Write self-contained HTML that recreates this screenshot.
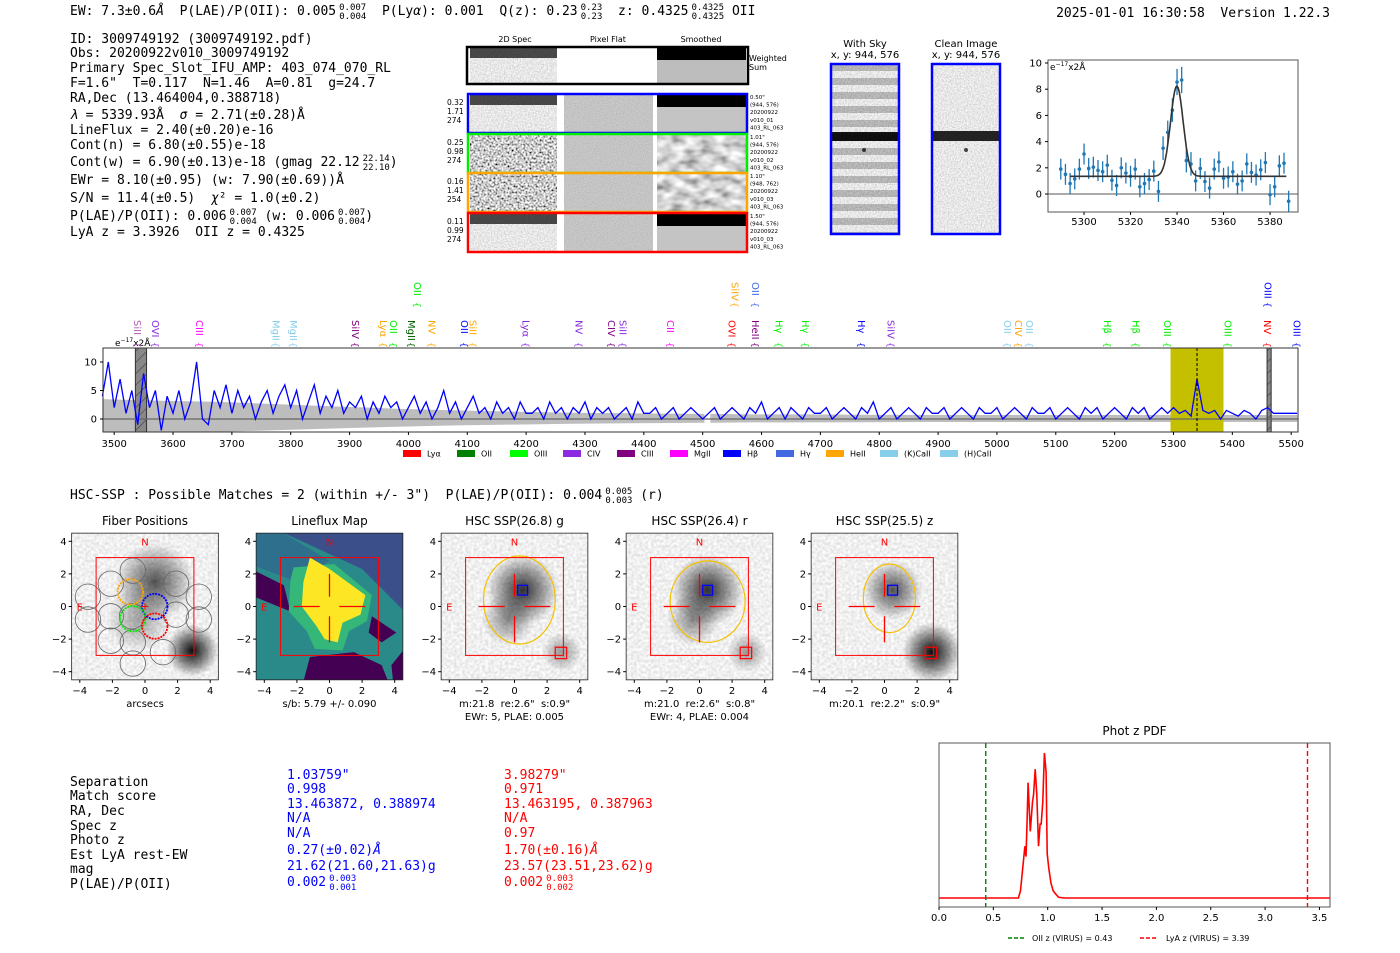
<!DOCTYPE html>
<html><head><meta charset="utf-8"><style>
html,body{margin:0;padding:0;background:#fff;}
svg{display:block;}
text{white-space:pre;}
.m{font-family:"DejaVu Sans Mono","Liberation Mono",monospace;font-size:13px;fill:#000;}
.s{font-family:"DejaVu Sans","Liberation Sans",sans-serif;}
</style></head><body>
<svg id="root" width="1400" height="953" viewBox="0 0 1400 953" xmlns="http://www.w3.org/2000/svg">
<defs>
<filter id="nzLight" x="0" y="0" width="100%" height="100%"><feTurbulence type="fractalNoise" baseFrequency="0.7" numOctaves="1" seed="3"/><feColorMatrix type="matrix" values="0.7 0 0 0 0.45 0.7 0 0 0 0.45 0.7 0 0 0 0.45 0 0 0 0 1"/></filter>
<filter id="nzHard" x="0" y="0" width="100%" height="100%"><feTurbulence type="fractalNoise" baseFrequency="0.5" numOctaves="1" seed="7"/><feColorMatrix type="matrix" values="2.2 0 0 0 -0.5 2.2 0 0 0 -0.5 2.2 0 0 0 -0.5 0 0 0 0 1"/></filter>
<filter id="nzFlat" x="0" y="0" width="100%" height="100%"><feTurbulence type="fractalNoise" baseFrequency="0.9" numOctaves="1" seed="5"/><feColorMatrix type="matrix" values="0.3 0 0 0 0.4 0.3 0 0 0 0.4 0.3 0 0 0 0.4 0 0 0 0 1"/></filter>
<filter id="nzSmooth" x="0" y="0" width="100%" height="100%"><feTurbulence type="fractalNoise" baseFrequency="0.07 0.12" numOctaves="2" seed="9"/><feColorMatrix type="matrix" values="1.3 0 0 0 0.0 1.3 0 0 0 0.0 1.3 0 0 0 0.0 0 0 0 0 1"/></filter>
<filter id="nzImg" x="0" y="0" width="100%" height="100%"><feTurbulence type="fractalNoise" baseFrequency="0.35" numOctaves="1" seed="11"/><feColorMatrix type="matrix" values="0.5 0 0 0 0.62 0.5 0 0 0 0.62 0.5 0 0 0 0.62 0 0 0 0 1"/></filter>
<radialGradient id="blob"><stop offset="0" stop-color="#000" stop-opacity="0.95"/><stop offset="0.5" stop-color="#000" stop-opacity="0.5"/><stop offset="1" stop-color="#000" stop-opacity="0"/></radialGradient>
<pattern id="hatch" width="8" height="8" patternUnits="userSpaceOnUse" patternTransform="rotate(45)"><rect width="8" height="8" fill="#888"/><line x1="0" y1="0" x2="0" y2="8" stroke="#333" stroke-width="1"/></pattern>
<pattern id="skyStripes" width="68" height="14" patternUnits="userSpaceOnUse" y="64"><rect width="68" height="7" fill="#000" opacity="0.22"/></pattern>
</defs>

<text class="m" x="70" y="15">EW: 7.3±0.6<tspan font-style="italic">Å</tspan>  P(LAE)/P(OII): 0.005<tspan font-size="9" dx="3" dy="-5">0.007</tspan><tspan font-size="9" dx="-27" dy="9">0.004</tspan><tspan dy="-4">  P(Ly</tspan><tspan font-style="italic">α</tspan>): 0.001  Q(z): 0.23<tspan font-size="9" dx="3" dy="-5">0.23</tspan><tspan font-size="9" dx="-21.6" dy="9">0.23</tspan><tspan dy="-4">  z: 0.4325</tspan><tspan font-size="9" dx="3" dy="-5">0.4325</tspan><tspan font-size="9" dx="-32.4" dy="9">0.4325</tspan><tspan dy="-4"> OII</tspan></text>
<text class="m" x="1330" y="17" text-anchor="end">2025-01-01 16:30:58  Version 1.22.3</text>

<g>
<text class="m" x="70" y="43">ID: 3009749192 (3009749192.pdf)</text>
<text class="m" x="70" y="57">Obs: 20200922v010_3009749192</text>
<text class="m" x="70" y="72">Primary Spec_Slot_IFU_AMP: 403_074_070_RL</text>
<text class="m" x="70" y="87">F=1.6"  T=0.117  N=1.46  A=0.81  g=24.7</text>
<text class="m" x="70" y="102">RA,Dec (13.464004,0.388718)</text>
<text class="m" x="70" y="119"><tspan font-style="italic">λ</tspan> = 5339.93Å  <tspan font-style="italic">σ</tspan> = 2.71(±0.28)Å</text>
<text class="m" x="70" y="134">LineFlux = 2.40(±0.20)e-16</text>
<text class="m" x="70" y="149">Cont(n) = 6.80(±0.55)e-18</text>
<text class="m" x="70" y="166">Cont(w) = 6.90(±0.13)e-18 (gmag 22.12<tspan font-size="9" dx="3" dy="-5">22.14</tspan><tspan font-size="9" dx="-27" dy="9">22.10</tspan><tspan dy="-4">)</tspan></text>
<text class="m" x="70" y="184">EWr = 8.10(±0.95) (w: 7.90(±0.69))Å</text>
<text class="m" x="70" y="202">S/N = 11.4(±0.5)  <tspan font-style="italic">χ</tspan>² = 1.0(±0.2)</text>
<text class="m" x="70" y="220">P(LAE)/P(OII): 0.006<tspan font-size="9" dx="3" dy="-5">0.007</tspan><tspan font-size="9" dx="-27" dy="9">0.004</tspan><tspan dy="-4"> (w: 0.006</tspan><tspan font-size="9" dx="3" dy="-5">0.007</tspan><tspan font-size="9" dx="-27" dy="9">0.004</tspan><tspan dy="-4">)</tspan></text>
<text class="m" x="70" y="236">LyA z = 3.3926  OII z = 0.4325</text>
</g>

<g id="spec2d" class="s">
<text x="515" y="42" font-size="8" text-anchor="middle">2D Spec</text>
<text x="608" y="42" font-size="8" text-anchor="middle">Pixel Flat</text>
<text x="701" y="42" font-size="8" text-anchor="middle">Smoothed</text>
<text x="749" y="61" font-size="8">Weighted</text>
<text x="749" y="70" font-size="8">Sum</text>
</g>

<g class="s">
<text x="865" y="47" font-size="10" text-anchor="middle">With Sky</text>
<text x="865" y="58" font-size="10" text-anchor="middle">x, y: 944, 576</text>
<rect x="831" y="64" width="68" height="170" filter="url(#nzLight)"/>
<rect x="831" y="64" width="68" height="170" fill="url(#skyStripes)"/>
<rect x="831" y="132" width="68" height="9" fill="#000" opacity="0.92"/>
<circle cx="864" cy="150" r="2" fill="#333"/>
<rect x="831" y="64" width="68" height="170" fill="none" stroke="#0000ff" stroke-width="2.5"/>
</g>
<g class="s">
<text x="966" y="47" font-size="10" text-anchor="middle">Clean Image</text>
<text x="966" y="58" font-size="10" text-anchor="middle">x, y: 944, 576</text>
<rect x="932" y="64" width="68" height="170" filter="url(#nzLight)"/>
<rect x="932" y="131" width="68" height="10" fill="#000" opacity="0.85"/>
<circle cx="966" cy="150" r="2" fill="#444"/>
<rect x="932" y="64" width="68" height="170" fill="none" stroke="#0000ff" stroke-width="2.5"/>
</g>

<g id="zoomplot" class="s"></g>
<g id="mainspec" class="s"></g>

<text class="m" x="70" y="499">HSC-SSP : Possible Matches = 2 (within +/- 3")  P(LAE)/P(OII): 0.004<tspan font-size="9" dx="3" dy="-5">0.005</tspan><tspan font-size="9" dx="-27" dy="9">0.003</tspan><tspan dy="-4"> (r)</tspan></text>

<g id="panels" class="s"></g>

<g>
<text class="m" x="70" y="786">Separation</text>
<text class="m" x="70" y="800">Match score</text>
<text class="m" x="70" y="815">RA, Dec</text>
<text class="m" x="70" y="830">Spec z</text>
<text class="m" x="70" y="844">Photo z</text>
<text class="m" x="70" y="859">Est LyA rest-EW</text>
<text class="m" x="70" y="873">mag</text>
<text class="m" x="70" y="888">P(LAE)/P(OII)</text>
</g>
<g>
<text class="m" style="fill:#0000ff" x="287" y="779">1.03759"</text>
<text class="m" style="fill:#0000ff" x="287" y="793">0.998</text>
<text class="m" style="fill:#0000ff" x="287" y="808">13.463872, 0.388974</text>
<text class="m" style="fill:#0000ff" x="287" y="822">N/A</text>
<text class="m" style="fill:#0000ff" x="287" y="837">N/A</text>
<text class="m" style="fill:#0000ff" x="287" y="854">0.27(±0.02)<tspan font-style="italic">Å</tspan></text>
<text class="m" style="fill:#0000ff" x="287" y="870">21.62(21.60,21.63)g</text>
<text class="m" style="fill:#0000ff" x="287" y="886">0.002<tspan font-size="9" dx="3" dy="-5">0.003</tspan><tspan font-size="9" dx="-27" dy="9">0.001</tspan></text>
</g>
<g>
<text class="m" style="fill:#ff0000" x="504" y="779">3.98279"</text>
<text class="m" style="fill:#ff0000" x="504" y="793">0.971</text>
<text class="m" style="fill:#ff0000" x="504" y="808">13.463195, 0.387963</text>
<text class="m" style="fill:#ff0000" x="504" y="822">N/A</text>
<text class="m" style="fill:#ff0000" x="504" y="837">0.97</text>
<text class="m" style="fill:#ff0000" x="504" y="854">1.70(±0.16)<tspan font-style="italic">Å</tspan></text>
<text class="m" style="fill:#ff0000" x="504" y="870">23.57(23.51,23.62)g</text>
<text class="m" style="fill:#ff0000" x="504" y="886">0.002<tspan font-size="9" dx="3" dy="-5">0.003</tspan><tspan font-size="9" dx="-27" dy="9">0.002</tspan></text>
</g>

<g id="pdfplot" class="s"></g>
</svg>

<script>
const fitWaves = [5290,5292,5294,5296,5298,5300,5302,5304,5306,5308,5310,5312,5314,5316,5318,5320,5322,5324,5326,5328,5330,5332,5334,5336,5338,5340,5342,5344,5346,5348,5350,5352,5354,5356,5358,5360,5362,5364,5366,5368,5370,5372,5374,5376,5378,5380,5382,5384,5386,5388];
const fitFlux = [1.9,1.5,0.8,1.15,1.9,3.05,1.95,2.05,1.8,1.7,2.2,1.05,0.65,2.0,1.6,1.35,1.9,0.55,0.8,1.1,1.75,0.2,3.5,4.7,6.4,8.55,8.7,2.55,2.3,1.0,1.95,0.95,0.45,1.9,2.45,1.2,1.3,1.7,0.75,1.0,2.3,1.65,1.45,1.85,2.4,-0.05,0.55,2.15,2.35,-0.55];
const fitErr = [0.8,0.8,0.8,0.8,0.8,0.8,0.8,0.8,0.8,0.8,0.8,0.8,0.8,0.8,0.8,0.8,0.8,0.8,0.8,0.8,0.8,0.8,0.9,0.9,0.9,1.0,1.0,0.9,0.9,0.8,0.8,0.8,0.8,0.8,0.8,0.8,0.8,0.8,0.8,0.8,0.8,0.8,0.8,0.8,0.8,0.8,0.8,0.8,0.8,0.8];
const fitParams = [5339.93, 2.71, 6.9, 1.35];
const fitTicksX = [5300,5320,5340,5360,5380];
const fitTicksY = [0,2,4,6,8,10];

const specStart = 3480, specStep = 10;
const specFlux = [4,10,2,7,1,5,-1,8,2,5,-2,4,1,5,0,3,10,0,-1,5,2,6,1,
 5,2,4,0,3,5,1,4,6,2,5,0,3,6,1,4,2,5,1,3,
 2,4,0,3,1,4,2,3,0,2,4,1,3,0,2,5,1,3,0,2,4,1,2,0,3,1,2,0,3,1,
 1,2,0,3,1,2,0,2,1,3,0,2,1,2,0,1,2,0,3,1,1,2,0,1,2,0,1,2,1,0,
 1,2,0,1,2,1,0,2,1,3,0,1,2,0,2,1,0,2,1,1,2,0,1,2,1,0,2,1,3,0,1,2,0,1,2,1,0,2,1,1,2,0,1,2,1,0,2,1,1,2,0,1,2,1,0,2,1,1,2,0,1,2,1,0,2,1,2,0,1,2,1,0,2,1,2,0,1,2,1,
 2,1,1.5,0.5,7,1.5,1,1.5,0,1.5,1,0.5,1.5,1,0,1.5,2,1,1,1,1,1];
const errWaves = [3480,3580,3680,3780,3880,3980,4080,4180,4280,4380,4500,4515,4580,4680,4780,4880,4980,5080,5180,5280,5380,5480,5510];
const errVals = [3.5,3.2,3.0,2.6,2.2,1.8,1.5,1.3,1.1,1.0,0.9,0.9,0.8,0.8,0.75,0.7,0.7,0.7,0.7,0.7,0.7,0.7,0.7];
const specTicksX = [3500,3600,3700,3800,3900,4000,4100,4200,4300,4400,4500,4600,4700,4800,4900,5000,5100,5200,5300,5400,5500];
const specTicksY = [0,5,10];
const lineWaves = [4015,4555,4590,5461, 3540,3570,3645,3775,3805,3910,3958,3975,4005,4040,4095,4110,4200,4290,4345,4365,4445,4550,4590,4630,4675,4770,4820,5018,5037,5055,5188,5236,5290,5393,5460,5510];
const lineNames = ["OII","SiIV","OII","OIII", "SiII","OVI","CIII","MgII","MgII","SiIV","Lyα","OII","MgII","NV","OII","SiII","Lyα","NV","CIV","SiII","CII","OVI","HeII","Hγ","Hγ","Hγ","SiIV","OII","CIV","OII","Hβ","Hβ","OIII","OIII","NV","OIII"];
const lineColors = ["#00ee00","#ffa500","#4169e1","#0000ff", "#b05cb0","#8a2be2","#ff00ff","#87ceeb","#87ceeb","#800080","#ffa500","#00ee00","#006400","#ffa500","#0000ff","#ffa500","#8a2be2","#8a2be2","#800080","#8a2be2","#ff00ff","#ff0000","#800080","#00ee00","#00ee00","#0000ff","#8a2be2","#87ceeb","#ffa500","#87ceeb","#00ee00","#00ee00","#00ee00","#00ee00","#ff0000","#0000ff"];
const lineRows = [0,0,0,0, 1,1,1,1,1,1,1,1,1,1,1,1,1,1,1,1,1,1,1,1,1,1,1,1,1,1,1,1,1,1,1,1];
const legendNames = ["Lyα","OII","OIII","CIV","CIII","MgII","Hβ","Hγ","HeII","(K)CaII","(H)CaII"];
const legendColors = ["#ff0000","#008000","#00ff00","#8a2be2","#800080","#ff00ff","#0000ff","#4169e1","#ffa500","#87ceeb","#87ceeb"];
const fitWindow = [5295, 5385];
const maskedWindows = [[3536,3555],[5459,5466]];

const pdfZ = [0,0.73,0.75,0.77,0.79,0.80,0.81,0.82,0.84,0.86,0.87,0.885,0.90,0.915,0.93,0.94,0.955,0.97,0.985,0.995,1.01,1.03,1.05,1.07,1.10,1.15,3.6];
const pdfP = [0,0,0.05,0.2,0.35,0.28,0.5,0.78,0.45,0.65,0.7,0.87,0.7,0.35,0.5,0.5,0.65,0.98,0.85,0.3,0.2,0.1,0.05,0.03,0.005,0,0];
const pdfTicks = [0.0,0.5,1.0,1.5,2.0,2.5,3.0,3.5];
const pdfMarkers = [0.43, 3.39];

const NS = "http://www.w3.org/2000/svg";
function mk(parent, tag, attrs, text){
  const e = document.createElementNS(NS, tag);
  for (const k in attrs) e.setAttribute(k, attrs[k]);
  if (text !== undefined) e.textContent = text;
  parent.appendChild(e); return e;
}

(function(){
  const g = document.getElementById('spec2d');
  let r;
  r = mk(g,'rect',{x:470,y:48,width:87,height:35,filter:'url(#nzLight)'});
  
  
  mk(g,'rect',{x:470,y:48,width:87,height:10,fill:'#111',opacity:0.75});
  mk(g,'rect',{x:657,y:48,width:89,height:35,fill:'#bdbdbd'});
  mk(g,'rect',{x:657,y:48,width:89,height:12,fill:'#000'});
  mk(g,'rect',{x:467,y:47,width:281,height:37,fill:'none',stroke:'#000','stroke-width':2.5});
  const rows = [[94,'#0000ff','light',["0.32","1.71","274"],["0.50\"","(944, 576)","20200922","v010_01","403_RL_063"]],
                [134,'#00ee00','hard',["0.25","0.98","274"],["1.01\"","(944, 576)","20200922","v010_02","403_RL_063"]],
                [173,'#ffa500','hard',["0.16","1.41","254"],["1.10\"","(948, 762)","20200922","v010_03","403_RL_063"]],
                [213,'#ff0000','light',["0.11","0.99","274"],["1.50\"","(944, 576)","20200922","v010_03","403_RL_063"]]];
  rows.forEach((rw,i)=>{
    const y=rw[0], h=38;
    const c1 = mk(g,'rect',{x:470,y:y+1,width:87,height:h,filter: rw[2]==='light'?'url(#nzLight)':'url(#nzHard)'});
    
    
    if (rw[2]==='light') mk(g,'rect',{x:470,y:y+1,width:87,height:10,fill:'#111',opacity:0.75});
    mk(g,'rect',{x:564,y:y+1,width:89,height:h,filter:'url(#nzFlat)'});
    if (rw[2]==='light'){ mk(g,'rect',{x:657,y:y+1,width:89,height:h,fill:'#c4c4c4'}); mk(g,'rect',{x:657,y:y+1,width:89,height:12,fill:'#000'}); }
    else mk(g,'rect',{x:657,y:y+1,width:89,height:h,filter:'url(#nzSmooth)'});
    const b = mk(g,'rect',{x:468,y:y,width:279,height:h+1,fill:'none',stroke:rw[1],'stroke-width':2.5});
    
    
    rw[3].forEach((t,k)=>mk(g,'text',{x:447,y:y+11+k*9,'font-size':7.5},t));
    rw[4].forEach((t,k)=>mk(g,'text',{x:750,y:y+5+k*7.6,'font-size':5.5},t));
  });
})();

(function(){
  const g = document.getElementById('zoomplot');
  const L=1048,R=1298,T=60,B=212;
  const xz = w => L + (w-5284.5)*2.325;
  const yz = v => 194 - v*13.1;
  mk(g,'line',{x1:L,x2:R,y1:yz(0),y2:yz(0),stroke:'#555','stroke-width':1});
  fitWaves.forEach((w,i)=>{
    const x=xz(w);
    const eb = mk(g,'line',{x1:x,x2:x,y1:yz(fitFlux[i]-fitErr[i]),y2:yz(fitFlux[i]+fitErr[i]),stroke:'#1f77b4','stroke-width':1.3});
    
    
    const p = mk(g,'circle',{cx:x,cy:yz(fitFlux[i]),r:1.8,fill:'#1f77b4'});
    
    
  });
  let d='';
  for (let w=5294; w<=5387; w+=0.5){
    const v = fitParams[3] + fitParams[2]*Math.exp(-0.5*Math.pow((w-fitParams[0])/fitParams[1],2));
    d += (d?'L':'M') + xz(w).toFixed(1)+','+yz(v).toFixed(1);
  }
  const fl = mk(g,'path',{d:d,fill:'none',stroke:'#333','stroke-width':1.6});
  
  
  mk(g,'rect',{x:L,y:T,width:R-L,height:B-T,fill:'none',stroke:'#555','stroke-width':1});
  fitTicksX.forEach(t=>{ mk(g,'line',{x1:xz(t),x2:xz(t),y1:B,y2:B+3,stroke:'#000'}); mk(g,'text',{x:xz(t),y:B+13,'font-size':10,'text-anchor':'middle'},t); });
  fitTicksY.forEach(t=>{ mk(g,'line',{x1:L-3,x2:L,y1:yz(t),y2:yz(t),stroke:'#000'}); mk(g,'text',{x:L-6,y:yz(t)+3.5,'font-size':10,'text-anchor':'end'},t); });
  const u = mk(g,'text',{x:L+2,y:T+10,'font-size':9},'e');
  mk(u,'tspan',{'font-size':6,dy:-4},'−17');
  mk(u,'tspan',{dy:4},'x2Å');
})();

(function(){
  const g = document.getElementById('mainspec');
  const L=103,R=1298,T=348,B=432;
  const xm = w => L + (w-3481)*0.5885;
  const ym = v => Math.max(T, Math.min(B, 419 - v*5.7));
  let up='', dn='';
  errWaves.forEach((w,i)=>{ up += (up?'L':'M')+xm(w).toFixed(1)+','+ym(errVals[i]).toFixed(1); });
  for (let i=errWaves.length-1;i>=0;i--) dn += 'L'+xm(errWaves[i]).toFixed(1)+','+ym(-errVals[i]*0.75).toFixed(1);
  const band = mk(g,'path',{d:up+dn+'Z',fill:'#bdbdbd'});
  
  
  mk(g,'rect',{x:xm(4503),y:T,width:xm(4513)-xm(4503),height:B-T,fill:'#fff'});
  const fw = mk(g,'rect',{x:xm(fitWindow[0]),y:T,width:xm(fitWindow[1])-xm(fitWindow[0]),height:B-T,fill:'#c4c000'});
  
  
  maskedWindows.forEach(m=>{
    const mw = mk(g,'rect',{x:xm(m[0]),y:T,width:xm(m[1])-xm(m[0]),height:B-T,fill:'url(#hatch)',stroke:'#333'});
    
    
  });
  mk(g,'line',{x1:L,x2:R,y1:ym(0),y2:ym(0),stroke:'#666','stroke-width':1.2});
  let d='';
  specFlux.forEach((v,i)=>{ const w=specStart+i*specStep; d += (d?'L':'M')+xm(w).toFixed(1)+','+ym(v).toFixed(1); });
  const sl = mk(g,'path',{d:d,fill:'none',stroke:'#0000ff','stroke-width':1.3});
  
  
  mk(g,'line',{x1:xm(5340),x2:xm(5340),y1:T,y2:B,stroke:'#000','stroke-dasharray':'3,2','stroke-width':1});
  mk(g,'rect',{x:L,y:T,width:R-L,height:B-T,fill:'none',stroke:'#333','stroke-width':1});
  specTicksX.forEach(t=>{ mk(g,'line',{x1:xm(t),x2:xm(t),y1:B,y2:B+3,stroke:'#000'}); mk(g,'text',{x:xm(t),y:B+15,'font-size':10,'text-anchor':'middle'},t); });
  specTicksY.forEach(t=>{ mk(g,'line',{x1:L-3,x2:L,y1:ym(t),y2:ym(t),stroke:'#000'}); mk(g,'text',{x:L-6,y:ym(t)+3.5,'font-size':10,'text-anchor':'end'},t); });
  const u = mk(g,'text',{x:115,y:346,'font-size':9},'e');
  mk(u,'tspan',{'font-size':6,dy:-4},'−17');
  mk(u,'tspan',{dy:4},'x2Å');
  lineWaves.forEach((w,i)=>{
    const x = xm(w), yTop = lineRows[i]===0 ? 282 : 320;
    const t = mk(g,'text',{x:0,y:0,'font-size':10,fill:lineColors[i],transform:`translate(${x-3.5},${yTop}) rotate(90)`},lineNames[i]);
    
    
    mk(g,'text',{x:0,y:0,'font-size':9,fill:lineColors[i],transform:`translate(${x-3.5},${yTop+(lineRows[i]===0?20:22)}) rotate(90)`},'{');
  });
  const lx=[403,457,510,563,617,670,723,776,826,880,940];
  legendNames.forEach((n,i)=>{
    const r = mk(g,'rect',{x:lx[i],y:450,width:18,height:7,fill:legendColors[i]});
    
    
    const t = mk(g,'text',{x:lx[i]+24,y:456.5,'font-size':8},n);
    
    
  });
})();

(function(){
  const g = document.getElementById('panels');
  const centers=[145,329.5,514.5,699.5,884.5], cy=606.5, s=16.3;
  const titles=["Fiber Positions","Lineflux Map","HSC SSP(26.8) g","HSC SSP(26.4) r","HSC SSP(25.5) z"];
  const sub1=["arcsecs","s/b: 5.79 +/- 0.090","m:21.8  re:2.6\"  s:0.9\"","m:21.0  re:2.6\"  s:0.8\"","m:20.1  re:2.2\"  s:0.9\""];
  const sub2=["","","EWr: 5, PLAE: 0.005","EWr: 4, PLAE: 0.004",""];
  const ticks=[-4,-2,0,2,4];
  const ell=[null,null,[0.3,0.4,2.2,2.7],[0.5,0.3,2.3,2.5],[0.3,0.5,1.6,2.1]];
  centers.forEach((cx,i)=>{
    const X = v => cx + v*s, Y = v => cy - v*s;
    const L=X(-4.5), T=Y(4.5), W=9*s;
    const pg = mk(g,'g',{});
    
    
    const cpth = mk(pg,'clipPath',{id:'clp'+i});
    mk(cpth,'rect',{x:L,y:T,width:W,height:W});
    const ig = mk(pg,'g',{'clip-path':`url(#clp${i})`});
    if (i===1){
      mk(ig,'rect',{x:L,y:T,width:W,height:W,fill:'#2a8a8a'});
      const poly=(pts,fill)=>mk(ig,'polygon',{points:pts.map(p=>X(p[0])+','+Y(p[1])).join(' '),fill:fill});
      poly([[-3,4.6],[4.6,4.6],[4.6,-0.3],[2,2.3]],'#3b4f8a');
      poly([[-4.6,4.6],[-3,4.6],[0,2.8],[-2,1.5],[-4.6,2.5]],'#2f6f8e');
      poly([[-4.6,2.2],[-2.8,1.3],[-2.4,-0.3],[-4.6,0.6]],'#440154');
      poly([[-1.2,-3.1],[1.5,-2.8],[3.2,-3.6],[3.6,-4.6],[-1.6,-4.6]],'#440154');
      poly([[2.6,-0.6],[4.1,-1.6],[3.2,-2.2],[2.4,-1.6]],'#440154');
      poly([[4.6,-2.6],[4.6,-4.6],[3.9,-4.6],[3.8,-3.6]],'#440154');
      poly([[-2.2,2.4],[0.3,2.6],[2.6,0.7],[2.3,-0.9],[1.2,-1.5],[0.8,-2.7],[-0.9,-2.6],[-1.4,-1.5],[-2.5,-0.3],[-2.4,1.6]],'#35b779');
      poly([[-1.2,3.0],[0,2.3],[2.2,0.7],[1.9,-0.5],[0.8,-1.0],[0.5,-2.2],[-0.3,-2.0],[-0.8,-1.2],[-1.7,0],[-1.6,1.5]],'#fde725');
    } else {
      mk(ig,'rect',{x:L,y:T,width:W,height:W,filter:'url(#nzImg)'});
      const blobs = i===0 ? [[0.6,1.5,2.4,0.7],[-0.4,-0.8,2.0,0.35],[2.9,-2.7,1.6,1]] :
                    i===4 ? [[0.5,1.0,1.8,0.7],[2.9,-2.8,1.8,1]] :
                            [[0.5,1.0,2.2,0.85],[-0.4,-0.8,1.6,0.45],[2.9,-2.8,1.2,0.4]];
      blobs.forEach(b=>mk(ig,'circle',{cx:X(b[0]),cy:Y(b[1]),r:b[2]*s,fill:'url(#blob)',opacity:b[3]}));
    }
    mk(pg,'rect',{x:L,y:T,width:W,height:W,fill:'none',stroke:'#222','stroke-width':0.8});
    if (i===0){
      const gray=[[-0.75,2.2],[-2.1,1.4],[-3.5,0.6],[-3.5,-0.8],[-2.1,-0.6],[-2.1,-2.1],[-0.75,-2.2],[-0.75,-3.5],[1.1,-2.8],[1.9,-0.5],[3.3,0.6],[3.3,-0.8],[1.9,1.4],[-0.8,-0.6]];
      gray.forEach(p=>mk(pg,'circle',{cx:X(p[0]),cy:Y(p[1]),r:0.78*s,fill:'none',stroke:'#666','stroke-width':0.8}));
      [[-0.9,0.9,'#ffa500'],[0.6,0,'#0000ff'],[-0.75,-0.75,'#00ee00'],[0.6,-1.2,'#ff0000']].forEach(p=>{
        const c = mk(pg,'circle',{cx:X(p[0]),cy:Y(p[1]),r:0.78*s,fill:'none',stroke:p[2],'stroke-width':1.8,'stroke-dasharray':'2,1'});
        
        
      });
      mk(pg,'line',{x1:X(-0.2),x2:X(0.2),y1:Y(0),y2:Y(0),stroke:'#f00'});
      mk(pg,'line',{x1:X(0),x2:X(0),y1:Y(0.2),y2:Y(-0.2),stroke:'#f00'});
    }
    if (ell[i]){
      const e=ell[i];
      mk(pg,'ellipse',{cx:X(e[0]),cy:Y(e[1]),rx:e[2]*s,ry:e[3]*s,fill:'none',stroke:'#f5c000','stroke-width':1.2});
      mk(pg,'rect',{x:X(0.2),y:Y(1.3),width:0.6*s,height:0.6*s,fill:'none',stroke:'#0000ff','stroke-width':1.3});
      mk(pg,'rect',{x:X(2.5),y:Y(-2.5),width:0.7*s,height:0.7*s,fill:'none',stroke:'#ff0000','stroke-width':1.2});
    }
    if (i>=1){
      [[-2.2,0,-0.6,0],[0.6,0,2.2,0],[0,2.0,0,0.6],[0,-0.6,0,-2.2]].forEach(l=>mk(pg,'line',{x1:X(l[0]),y1:Y(l[1]),x2:X(l[2]),y2:Y(l[3]),stroke:'#f00','stroke-width':1.3}));
    }
    mk(pg,'rect',{x:X(-3),y:Y(3),width:6*s,height:6*s,fill:'none',stroke:'#f00','stroke-width':1});
    mk(pg,'text',{x:X(0),y:Y(4)+4,'font-size':10,fill:'#f00','text-anchor':'middle'},'N');
    mk(pg,'text',{x:X(-4),y:Y(0)+4,'font-size':10,fill:'#f00','text-anchor':'middle'},'E');
    ticks.forEach(t=>{
      mk(pg,'line',{x1:X(t),x2:X(t),y1:T+W,y2:T+W+3,stroke:'#000'});
      mk(pg,'text',{x:X(t),y:T+W+14,'font-size':10,'text-anchor':'middle'},t<0?'−'+(-t):t);
      mk(pg,'line',{x1:L-3,x2:L,y1:Y(t),y2:Y(t),stroke:'#000'});
      mk(pg,'text',{x:L-5,y:Y(t)+3.5,'font-size':10,'text-anchor':'end'},t<0?'−'+(-t):t);
    });
    const tt = mk(pg,'text',{x:cx,y:525,'font-size':12,'text-anchor':'middle'},titles[i]);
    
    
    mk(pg,'text',{x:cx,y:707,'font-size':10,'text-anchor':'middle'},sub1[i]);
    if (sub2[i]) mk(pg,'text',{x:cx,y:720,'font-size':10,'text-anchor':'middle'},sub2[i]);
  });
})();

(function(){
  const g = document.getElementById('pdfplot');
  const L=939,R=1330,T=743,B=907;
  const xp = z => L + z*108.7;
  const yp = v => 898 - v*148;
  let d='';
  pdfZ.forEach((z,i)=>{ d += (d?'L':'M')+Math.min(R,xp(z)).toFixed(1)+','+yp(pdfP[i]).toFixed(1); });
  const pl = mk(g,'path',{d:d,fill:'none',stroke:'#ff0000','stroke-width':1.6});
  
  
  const mc=['#008000','#ff0000'];
  pdfMarkers.forEach((z,i)=>{
    const l = mk(g,'line',{x1:xp(z),x2:xp(z),y1:T,y2:B,stroke:mc[i],'stroke-width':1.4,'stroke-dasharray':'5,3'});
    
    
  });
  mk(g,'rect',{x:L,y:T,width:R-L,height:B-T,fill:'none',stroke:'#555','stroke-width':1});
  pdfTicks.forEach(t=>{ mk(g,'line',{x1:xp(t),x2:xp(t),y1:B,y2:B+3,stroke:'#000'}); mk(g,'text',{x:xp(t),y:B+14,'font-size':10,'text-anchor':'middle'},t.toFixed(1)); });
  mk(g,'text',{x:(L+R)/2,y:735,'font-size':12,'text-anchor':'middle'},'Phot z PDF');
  mk(g,'line',{x1:1008,x2:1026,y1:938,y2:938,stroke:'#008000','stroke-width':1.4,'stroke-dasharray':'4,2'});
  const a = mk(g,'text',{x:1032,y:941,'font-size':8},'OII z (VIRUS) = 0.43');
  
  
  mk(g,'line',{x1:1140,x2:1158,y1:938,y2:938,stroke:'#ff0000','stroke-width':1.4,'stroke-dasharray':'4,2'});
  const b = mk(g,'text',{x:1166,y:941,'font-size':8},'LyA z (VIRUS) = 3.39');
  
  
})();
</script>
</body></html>
